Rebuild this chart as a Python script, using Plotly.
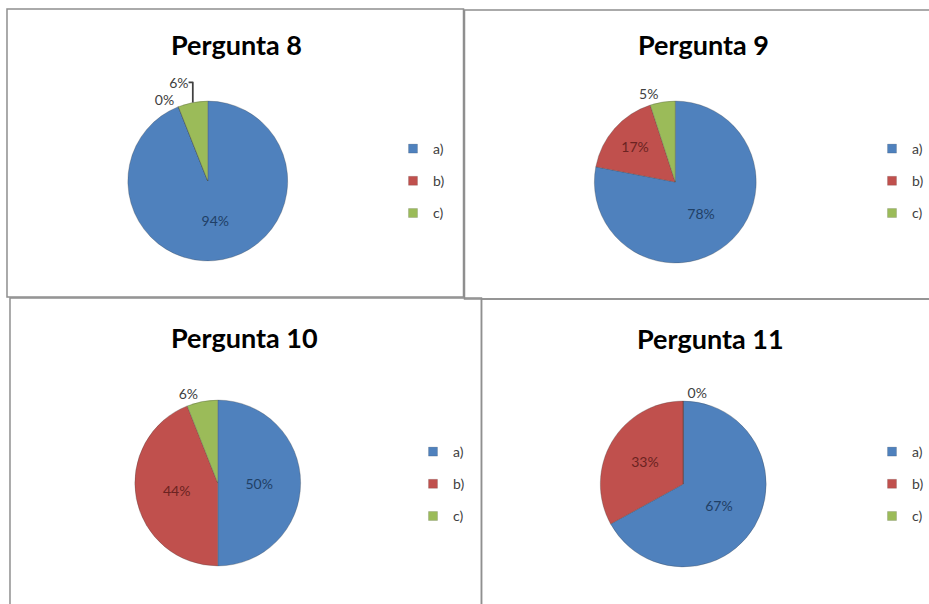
import plotly.graph_objects as go

W, H = 929, 604

categories = ["a)", "b)", "c)"]
titles = ["Pergunta 8", "Pergunta 9", "Pergunta 10", "Pergunta 11"]
p8 = [94, 0, 6]
p9 = [78, 17, 5]
p10 = [50, 44, 6]
p11 = [67, 33, 0]
series = [p8, p9, p10, p11]

colors = ["#4F81BD", "#C0504D", "#9BBB59"]
inside_colors = ["#1F3F66", "#6B2321", "#4F6228"]

# layout (pixels): pie center x, y, radius; title x, y; legend marker x, middle y
pies = [(208, 181, 80), (676, 182, 81), (218, 483, 83), (684, 484, 83)]
title_pos = [(237, 45), (704, 45), (245, 337), (711, 338)]
legend_pos = [(413, 181), (892, 181), (433, 484), (893, 484)]
positions = [
    ["inside", "outside", "outside"],
    ["inside", "inside", "outside"],
    ["inside", "inside", "outside"],
    ["inside", "inside", "outside"],
]
panels = [(7, 9, 464, 297), (465, 10, 935, 299), (10, 298, 482, 610), (482, 299, 935, 610)]

fig = go.Figure()
layout_legends = {}
for i, (vals, (cx, cy, r)) in enumerate(zip(series, pies)):
    lname = "legend" if i == 0 else f"legend{i+1}"
    fig.add_trace(go.Pie(
        labels=categories, values=vals, sort=False, direction="clockwise", rotation=0,
        marker=dict(colors=colors, line=dict(color="rgba(60,60,60,0.35)", width=0.8)),
        texttemplate="%{percent:.0%}", textposition=positions[i],
        insidetextorientation="horizontal",
        insidetextfont=dict(color=inside_colors, size=14, family="Lato"),
        outsidetextfont=dict(color="#404040", size=14, family="Lato"),
        domain=dict(x=[(cx - r) / W, (cx + r) / W], y=[1 - (cy + r) / H, 1 - (cy - r) / H]),
        showlegend=False, hoverinfo="label+percent", name=titles[i],
    ))
    # legend entries for this panel
    for cat, col in zip(categories, colors):
        fig.add_trace(go.Scatter(
            x=[None], y=[None], mode="markers", name=cat,
            marker=dict(symbol="square", size=9, color=col,
                        line=dict(color="rgba(0,0,0,0.25)", width=0.5)),
            legend=lname, legendgroup=f"{lname}-{cat}", showlegend=True,
        ))
    lx, ly = legend_pos[i]
    layout_legends[lname] = dict(
        x=(lx - 20) / W, y=1 - ly / H, xanchor="left", yanchor="middle",
        font=dict(size=14, color="#404040", family="Lato"), bgcolor="rgba(0,0,0,0)",
        traceorder="grouped", tracegroupgap=11,
        itemclick=False, itemdoubleclick=False,
    )

shapes = [dict(type="rect", xref="paper", yref="paper",
               x0=x0 / W, x1=x1 / W, y0=1 - y1 / H, y1=1 - y0 / H,
               line=dict(color="#8f8f8f", width=1.5))
          for (x0, y0, x1, y1) in panels]

annotations = [dict(text=f"<b>{t}</b>", x=tx / W, y=1 - ty / H, xref="paper", yref="paper",
                    xanchor="center", yanchor="middle", showarrow=False,
                    font=dict(size=27, color="#000000", family="Lato"))
               for t, (tx, ty) in zip(titles, title_pos)]

fig.update_layout(
    width=W, height=H, margin=dict(l=0, r=0, t=0, b=0),
    paper_bgcolor="white", plot_bgcolor="white",
    font=dict(family="Lato", color="#404040"),
    xaxis=dict(visible=False), yaxis=dict(visible=False),
    shapes=shapes, annotations=annotations,
    **layout_legends,
)
fig.write_html("out.html", config={"displayModeBar": False},
               post_script="document.body.style.margin='0';")
